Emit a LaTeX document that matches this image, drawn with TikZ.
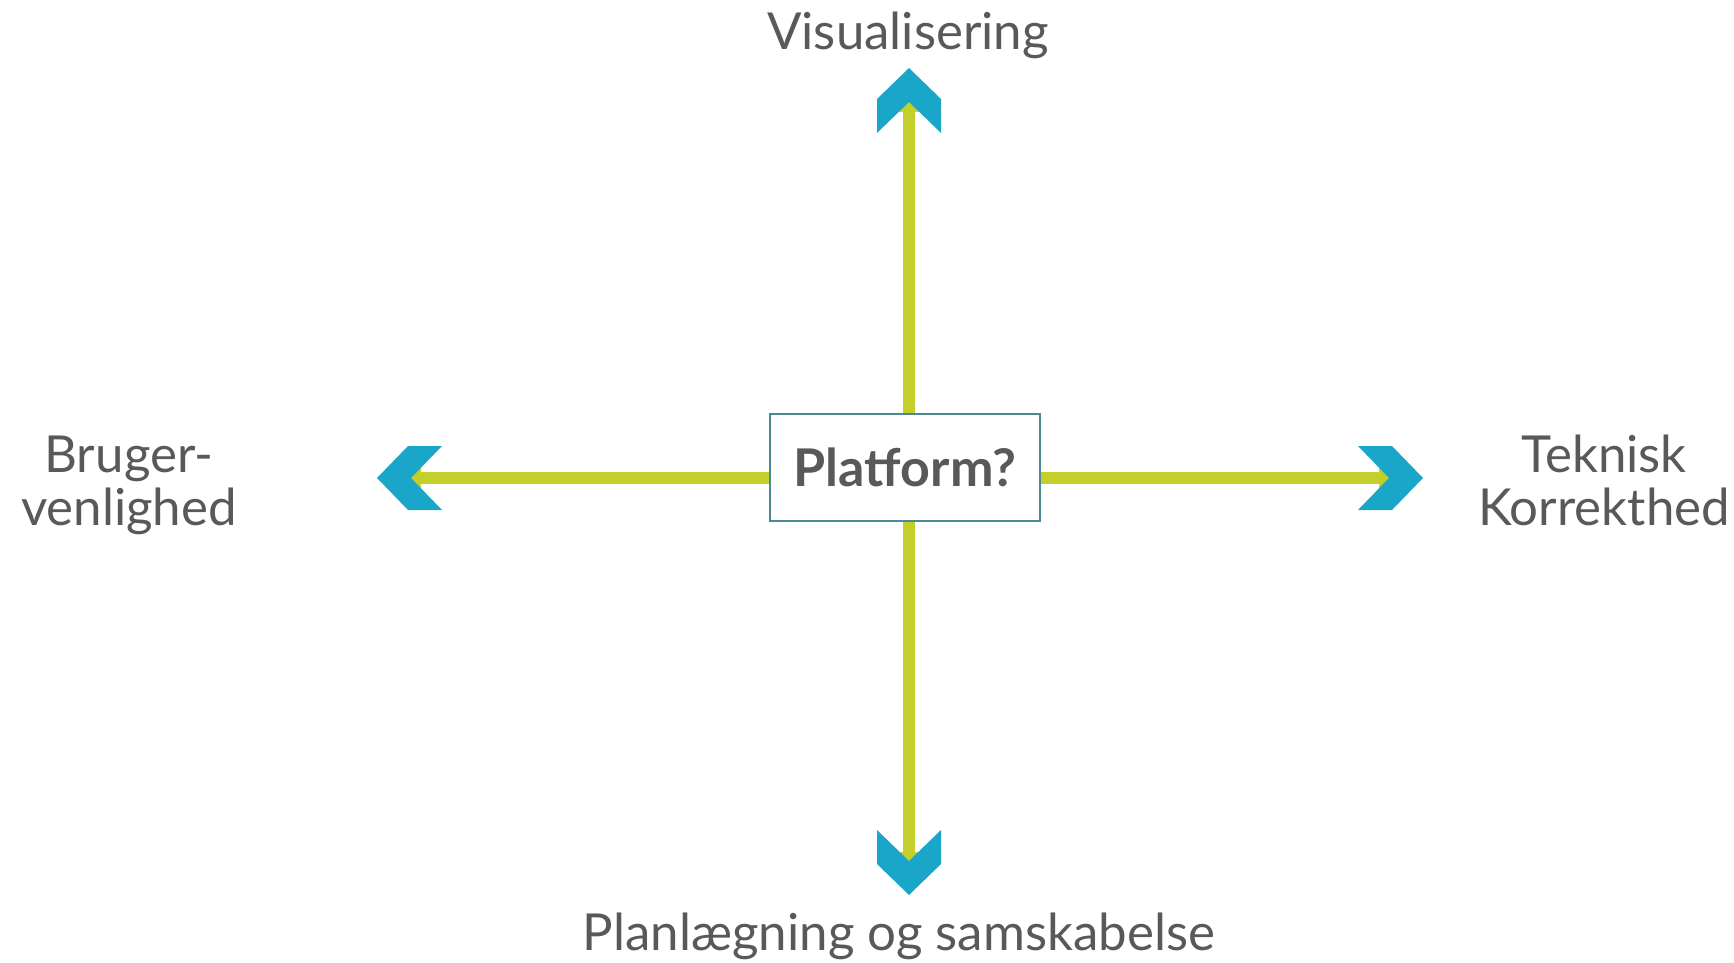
\documentclass[tikz,border=0pt]{standalone}
\usepackage{fontspec}
\setmainfont{Lato}
\usetikzlibrary{arrows.meta}
\definecolor{gul}{HTML}{C5CF2B}
\definecolor{blaa}{HTML}{1AA6C8}
\definecolor{kant}{HTML}{4A8A96}
\definecolor{tekst}{HTML}{595959}
\tikzset{
    gulpil/.style={gul,line width=5.85pt,-{Triangle[length=6pt,width=12pt]}},
    etiket/.style={text=tekst,font=\fontsize{25.5}{26.5}\selectfont,inner sep=0pt,align=center},
    chevron/.pic={\fill[blaa] (0,0) -- (32,31) -- (32,65) -- (0,34) -- (-32,65) -- (-32,31) -- cycle;}
}
\begin{document}
\begin{tikzpicture}[x=0.5pt,y=-0.5pt]
    \useasboundingbox (0,0) rectangle (1734,963);
    \coordinate (midt) at (909,478);%中心点
    \coordinate (op) at (909,100);
    \coordinate (ned) at (909,864);
    \coordinate (venstre) at (409,478);
    \coordinate (hoejre) at (1391,478);
    \draw[gulpil] (midt) -- (op);%黄色箭头
    \draw[gulpil] (midt) -- (ned);
    \draw[gulpil] (midt) -- (venstre);
    \draw[gulpil] (midt) -- (hoejre);
    \pic (chop) at (909,68) {chevron};%蓝色箭头头部
    \pic[rotate=180] (chned) at (909,895) {chevron};
    \pic[rotate=90] (chvenstre) at (377,478) {chevron};
    \pic[rotate=-90] (chhoejre) at (1423,478) {chevron};
    \node[draw=kant,line width=1pt,fill=white,minimum width=135pt,minimum height=53.5pt,
        text=tekst,font=\bfseries\fontsize{26}{30}\selectfont] (platform) at (905,467.5) {Platform?};
    \node[etiket,anchor=base] (vis) at (908,50) {Visualisering};
    \node[etiket,anchor=base] (plan) at (899,950) {Planlægning og samskabelse};
    \node[etiket,anchor=base] (bruger) at (129,525) {Bruger-\\venlighed};%最后一行的基线
    \node[etiket,anchor=base] (teknisk) at (1604,525) {Teknisk\\Korrekthed};
\end{tikzpicture}
\end{document}
